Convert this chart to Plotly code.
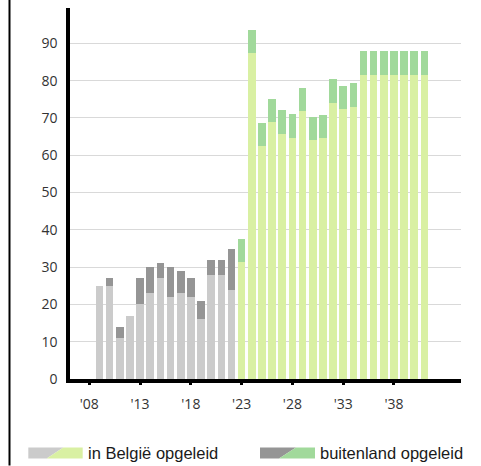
import plotly.graph_objects as go

# ---- data ----
years = list(range(2009, 2042))
in_belgie = [25, 25, 11, 17, 20, 23, 27, 22, 23, 22, 16, 28, 28, 24, 31.4,
             87.3, 62.5, 68.9, 65.7, 64.7, 71.8, 64.1, 64.7, 74.0, 72.3, 73.0,
             81.6, 81.6, 81.6, 81.6, 81.6, 81.6, 81.6]
buitenland = [0, 2, 3, 0, 7, 7, 4, 8, 6, 5, 5, 4, 4, 11, 6.2,
              6.3, 6.1, 6.3, 6.5, 6.3, 6.3, 6.3, 6.2, 6.4, 6.4, 6.3,
              6.3, 6.3, 6.3, 6.3, 6.3, 6.3, 6.3]
projection_start = 2023
tick_years = [2008, 2013, 2018, 2023, 2028, 2033, 2038]
tick_labels = ["'08", "'13", "'18", "'23", "'28", "'33", "'38"]
legend_labels = ["in België opgeleid", "buitenland opgeleid"]

# ---- style ----
GRAY_L, GRAY_D = "#cbcbcb", "#959595"
GREEN_L, GREEN_D = "#d9f0a3", "#a1d99b"

W, H = 481, 466
L, R, T, B = 70, 20, 8, 86.5
PW, PH = W - L - R, H - T - B

def px(x):
    return (x - L) / PW

def py(y):
    return (H - B - y) / PH

col_l = [GREEN_L if y >= projection_start else GRAY_L for y in years]
col_d = [GREEN_D if y >= projection_start else GRAY_D for y in years]

fig = go.Figure()
fig.add_trace(go.Bar(x=years, y=in_belgie, name=legend_labels[0],
                     marker=dict(color=col_l, line=dict(width=0)), width=0.75))
fig.add_trace(go.Bar(x=years, y=buitenland, name=legend_labels[1],
                     marker=dict(color=col_d, line=dict(width=0)), width=0.75))

AXFONT = dict(family="Open Sans", size=14, color="#333333")

fig.update_layout(
    width=W, height=H, barmode="stack", showlegend=False,
    margin=dict(l=L, r=R, t=T, b=B, pad=0),
    paper_bgcolor="white", plot_bgcolor="white",
    xaxis=dict(range=[2006.1, 2044.6], tickvals=tick_years, ticktext=tick_labels,
               showgrid=False, zeroline=False, showline=True, linecolor="black",
               linewidth=3.5, ticks="outside", ticklen=2, tickwidth=3,
               tickcolor="black", tickfont=AXFONT, ticklabelstandoff=7),
    yaxis=dict(range=[0, 99.5], dtick=10, showgrid=True, gridcolor="#d9d9d9",
               gridwidth=1, zeroline=False, showline=True, linecolor="black",
               linewidth=3.5, ticks="", tickfont=AXFONT, ticklabelstandoff=6),
)

shapes = [dict(type="line", xref="paper", yref="paper", x0=px(9.5), x1=px(9.5),
               y0=py(H), y1=py(0), line=dict(color="black", width=2))]

def swatch(x0, xb, xt, x1, y0, y1, c1, c2):
    p1 = f"M{px(x0)},{py(y1)} L{px(xb)},{py(y1)} L{px(xt)},{py(y0)} L{px(x0)},{py(y0)} Z"
    p2 = f"M{px(xb)},{py(y1)} L{px(x1)},{py(y1)} L{px(x1)},{py(y0)} L{px(xt)},{py(y0)} Z"
    return [dict(type="path", xref="paper", yref="paper", path=p1, fillcolor=c1, line=dict(width=0)),
            dict(type="path", xref="paper", yref="paper", path=p2, fillcolor=c2, line=dict(width=0))]

shapes += swatch(28.3, 46.7, 63.3, 82.7, 448, 459, GRAY_L, GREEN_L)
shapes += swatch(260, 279, 296, 315, 448, 459, GRAY_D, GREEN_D)
fig.update_layout(shapes=shapes)

LEGFONT = dict(family="Liberation Sans", size=16.5, color="#1a1a1a")
for xpix, txt in [(86, legend_labels[0]), (318, legend_labels[1])]:
    fig.add_annotation(x=px(xpix), y=py(454), xref="paper", yref="paper", text=txt,
                       showarrow=False, xanchor="left", yanchor="middle", font=LEGFONT)

fig.write_html("out.html", config={"displayModeBar": False},
               post_script="document.body.style.margin='0';document.body.style.overflow='hidden';")
